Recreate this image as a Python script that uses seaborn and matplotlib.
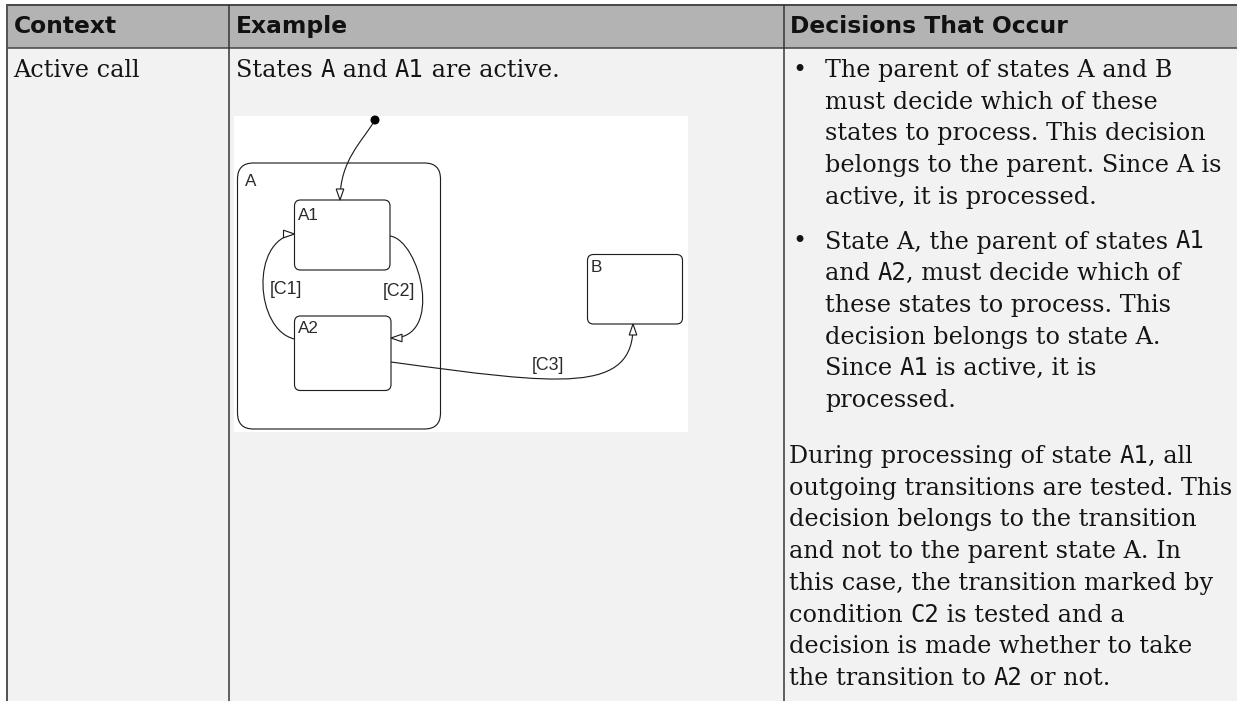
import matplotlib
matplotlib.use("Agg")
import matplotlib.pyplot as plt
import seaborn as sns
from matplotlib.patches import Rectangle, FancyBboxPatch, Polygon, Circle, PathPatch
from matplotlib.path import Path

sns.set_theme(style="white")
plt.rcParams['font.family'] = ['DejaVu Serif', 'DejaVu Sans']

# ---------------- content ----------------
headers = ["Context", "Example", "Decisions That Occur"]
context_text = "Active call"
example_text = "States `A` and `A1` are active."
bullet1_lines = [
    "The parent of states A and B",
    "must decide which of these",
    "states to process. This decision",
    "belongs to the parent. Since A is",
    "active, it is processed.",
]
bullet2_lines = [
    "State A, the parent of states `A1`",
    "and `A2`, must decide which of",
    "these states to process. This",
    "decision belongs to state A.",
    "Since `A1` is active, it is",
    "processed.",
]
paragraph_lines = [
    "During processing of state `A1`, all",
    "outgoing transitions are tested. This",
    "decision belongs to the transition",
    "and not to the parent state A. In",
    "this case, the transition marked by",
    "condition `C2` is tested and a",
    "decision is made whether to take",
    "the transition to `A2` or not.",
]
state_names = ["A", "A1", "A2", "B"]
transition_labels = ["[C1]", "[C2]", "[C3]"]

# ---------------- layout ----------------
W, H = 1237, 701
fig = plt.figure(figsize=(W / 100, H / 100), dpi=100)
ax = fig.add_axes([0, 0, 1, 1])
ax.set_xlim(0, W)
ax.set_ylim(H, 0)
ax.axis("off")
fig.patch.set_facecolor("white")

PX = 0.72  # points per pixel at dpi 100
HEADER_BG = "#b3b3b3"
BODY_BG = "#f2f2f2"
LINE_C = "#4a4a4a"

left_x, top_y, head_bot = 6.5, 4.5, 48
col1, col2 = 228.5, 783.5

ax.add_patch(Rectangle((left_x, top_y), W - left_x, head_bot - top_y,
                       facecolor=HEADER_BG, edgecolor="none", zorder=0))
ax.add_patch(Rectangle((left_x, head_bot), W - left_x, H - head_bot,
                       facecolor=BODY_BG, edgecolor="none", zorder=0))
ax.plot([left_x, W], [top_y, top_y], color=LINE_C, lw=2 * PX, solid_capstyle="butt")
ax.plot([left_x, W], [head_bot, head_bot], color=LINE_C, lw=1.6 * PX, solid_capstyle="butt")
ax.plot([left_x, left_x], [top_y - 1, H], color="#555555", lw=2 * PX, solid_capstyle="butt")
for cx in (col1, col2):
    ax.plot([cx, cx], [top_y, H], color="#333333", lw=1.5 * PX, solid_capstyle="butt")

FS = 17.2
serif = dict(family="DejaVu Serif", fontsize=FS, color="#141414")
mono = dict(family="DejaVu Sans Mono", fontsize=FS, color="#141414")
bold = dict(family="DejaVu Sans", fontsize=16.8, fontweight="bold", color="#111111")

fig.canvas.draw()
renderer = fig.canvas.get_renderer()


def text_w(s, props):
    t = ax.text(0, 0, s, **props)
    w = t.get_window_extent(renderer).width
    t.remove()
    return w


def seg_width(s, props):
    return text_w("x" + s + "x", props) - text_w("xx", props)


def rich(x, y, line):
    parts = line.split("`")
    for i, p in enumerate(parts):
        if not p:
            continue
        props = mono if i % 2 == 1 else serif
        ax.text(x, y, p, va="baseline", ha="left", **props)
        x += seg_width(p, props)


# header
for hx, h in zip([14, 236, 790], headers):
    ax.text(hx, 33, h, va="baseline", ha="left", **bold)

# body
rich(13, 77, context_text)
rich(236, 77, example_text)

LH = 31.7
bx, tx = 792, 825
ax.text(bx, 77, "\u2022", va="baseline", **serif)
for i, ln in enumerate(bullet1_lines):
    rich(tx, 77 + i * LH, ln)
b2 = 248.5
ax.text(bx, b2, "\u2022", va="baseline", **serif)
for i, ln in enumerate(bullet2_lines):
    rich(tx, b2 + i * LH, ln)
p0 = 463
for i, ln in enumerate(paragraph_lines):
    rich(789, p0 + i * LH, ln)

# ---------------- state diagram ----------------
ax.add_patch(Rectangle((234, 116), 454, 316, facecolor="white", edgecolor="none", zorder=1))
DC = "#1e1e1e"
DLW = 1.15 * PX

boxes = {
    "A": (237.5, 163, 440.5, 429, 16),
    "A1": (294.5, 200, 390, 270, 6),
    "A2": (294.5, 316, 391, 390.5, 6),
    "B": (587.5, 254.5, 682.5, 324, 6),
}
for name in state_names:
    x0, y0, x1, y1, r = boxes[name]
    ax.add_patch(FancyBboxPatch((x0, y0), x1 - x0, y1 - y0,
                                boxstyle=f"round,pad=0,rounding_size={r}",
                                facecolor="none", edgecolor=DC, lw=DLW, zorder=3))
label_pos = {"A": (245, 185.5), "A1": (298, 220), "A2": (298, 333), "B": (591, 271.5)}
lab_props = dict(family="Liberation Sans", fontsize=12.3, color="#2a2a2a")
for name in state_names:
    lx, ly = label_pos[name]
    ax.text(lx, ly, name, va="baseline", ha="left", zorder=4, **lab_props)


def curve(pts):
    codes = [Path.MOVETO] + [Path.CURVE4] * (len(pts) - 1)
    ax.add_patch(PathPatch(Path(pts, codes), facecolor="none", edgecolor=DC,
                           lw=DLW, zorder=3))


def arrow(tip, direction, length=11, half=3.8):
    dx, dy = direction
    tx_, ty_ = tip
    bxp, byp = tx_ - dx * length, ty_ - dy * length
    nx, ny = -dy, dx
    poly = [(tx_, ty_), (bxp + nx * half, byp + ny * half), (bxp - nx * half, byp - ny * half)]
    ax.add_patch(Polygon(poly, closed=True, facecolor="white", edgecolor=DC,
                         lw=DLW, zorder=5))


# default transition
ax.add_patch(Circle((375, 120), 3.8, facecolor="black", edgecolor="black", zorder=5))
curve([(375, 120), (362, 142), (340, 160), (340, 200)])
arrow((340, 200), (0, 1))
# C1
curve([(294.5, 339), (255, 330), (250, 240), (294.5, 234)])
arrow((294.5, 234), (1, 0))
# C2
curve([(390, 236), (420, 240), (445, 340), (391, 338)])
arrow((391, 338), (-1, 0))
# C3
curve([(391, 362), (560, 385), (635, 395), (633, 324)])
arrow((633, 324), (0, -1))

tl_props = dict(family="Liberation Sans", fontsize=12.8, color="#2a2a2a")
for lab, (lx, ly) in zip(transition_labels, [(286, 289), (399, 291), (548, 366)]):
    ax.text(lx, ly, lab, ha="center", va="center", zorder=4, **tl_props)

fig.savefig("out.png", dpi=100, facecolor="white")
